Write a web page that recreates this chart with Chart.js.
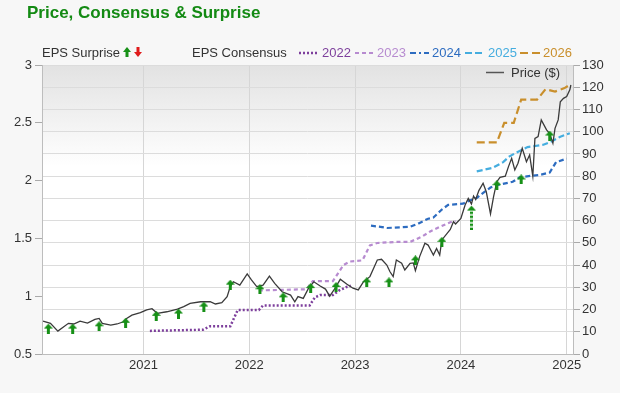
<!DOCTYPE html>
<html>
<head>
<meta charset="utf-8">
<script src="https://cdn.jsdelivr.net/npm/chart.js@4/dist/chart.umd.min.js"></script>
<style>
  html, body { margin: 0; padding: 0; background: #f7f7f7; }
  #wrap { position: relative; width: 620px; height: 393px; font-family: "Liberation Sans", Arial, sans-serif; }
  #chart { position: absolute; left: 0; top: 0; }
  .title { position: absolute; left: 27px; top: 4px; font-size: 17px; line-height: 17px; font-weight: bold; color: #138a13; white-space: nowrap; }
  .leg { position: absolute; font-size: 13px; line-height: 13px; color: #333; white-space: nowrap; }
</style>
</head>
<body>
<div id="wrap">
  <canvas id="chart" width="620" height="393"></canvas>
  <div class="title">Price, Consensus &amp; Surprise</div>

  <div class="leg" style="left:42px; top:46px;">EPS Surprise</div>
  <svg style="position:absolute; left:123px; top:47px;" width="8" height="11">
    <polygon points="4,0 8,5 0,5" fill="#179017"/><rect x="2.5" y="5" width="3" height="5" fill="#179017"/>
  </svg>
  <svg style="position:absolute; left:134px; top:47px;" width="8" height="11">
    <rect x="2.5" y="0" width="3" height="5" fill="#e01b1b"/><polygon points="0,5 8,5 4,10" fill="#e01b1b"/>
  </svg>

  <div class="leg" style="left:192px; top:46px;">EPS Consensus</div>

  <svg style="position:absolute; left:299px; top:51px;" width="20" height="4">
    <line x1="0" y1="2" x2="20" y2="2" stroke="#7d3f9c" stroke-width="2.5" stroke-dasharray="2,2"/>
  </svg>
  <div class="leg" style="left:322px; top:46px; color:#7d3f9c;">2022</div>

  <svg style="position:absolute; left:355px; top:51px;" width="18" height="4">
    <line x1="0" y1="2" x2="18" y2="2" stroke="#b78bd0" stroke-width="2" stroke-dasharray="4,3"/>
  </svg>
  <div class="leg" style="left:377px; top:46px; color:#b78bd0;">2023</div>

  <svg style="position:absolute; left:410px; top:51px;" width="19" height="4">
    <line x1="0" y1="2" x2="19" y2="2" stroke="#2d6cc0" stroke-width="2.2" stroke-dasharray="6,3,2,3"/>
  </svg>
  <div class="leg" style="left:432px; top:46px; color:#2d6cc0;">2024</div>

  <svg style="position:absolute; left:465px; top:51px;" width="19" height="4">
    <line x1="0" y1="2" x2="19" y2="2" stroke="#45addf" stroke-width="2" stroke-dasharray="7,3"/>
  </svg>
  <div class="leg" style="left:488px; top:46px; color:#45addf;">2025</div>

  <svg style="position:absolute; left:520px; top:51px;" width="20" height="4">
    <line x1="0" y1="2" x2="20" y2="2" stroke="#c98f2c" stroke-width="2" stroke-dasharray="8,4"/>
  </svg>
  <div class="leg" style="left:543px; top:46px; color:#c98f2c;">2026</div>

  <svg style="position:absolute; left:486px; top:71px;" width="18" height="3">
    <line x1="0" y1="1.5" x2="18" y2="1.5" stroke="#555" stroke-width="1.5"/>
  </svg>
  <div class="leg" style="left:511px; top:66px;">Price ($)</div>
</div>

<script>
// price, right axis ($), x as decimal year
const priceYears = [2020.05, 2020.12, 2020.19, 2020.29, 2020.34, 2020.40, 2020.47, 2020.54, 2020.58, 2020.61,
    2020.69, 2020.75, 2020.81, 2020.84, 2020.89, 2020.97, 2021.03, 2021.08, 2021.13, 2021.22,
    2021.32, 2021.38, 2021.44, 2021.54, 2021.63, 2021.68, 2021.74, 2021.79, 2021.82, 2021.85,
    2021.91, 2021.98, 2022.02, 2022.07, 2022.13, 2022.19, 2022.24, 2022.31, 2022.39, 2022.43,
    2022.46, 2022.51, 2022.56, 2022.61, 2022.67, 2022.72, 2022.76, 2022.80, 2022.86, 2022.92,
    2022.98, 2023.03, 2023.08, 2023.14, 2023.21, 2023.25, 2023.30, 2023.33, 2023.36, 2023.39,
    2023.44, 2023.47, 2023.52, 2023.55, 2023.57, 2023.61, 2023.66, 2023.69, 2023.74, 2023.77,
    2023.80, 2023.82, 2023.87, 2023.90, 2023.93, 2023.95, 2024.00, 2024.04, 2024.07, 2024.10,
    2024.12, 2024.14, 2024.17, 2024.21, 2024.24, 2024.28, 2024.31, 2024.34, 2024.37, 2024.42,
    2024.45, 2024.48, 2024.51, 2024.54, 2024.58, 2024.62, 2024.65, 2024.68, 2024.70, 2024.73,
    2024.76, 2024.81, 2024.84, 2024.87, 2024.89, 2024.92, 2024.94, 2024.97, 2025.00, 2025.03, 2025.04];
const priceValues = [14.8, 13.8, 10.3, 13.8, 13.5, 14.8, 13.9, 15.6, 16.0, 13.8,
    13.0, 13.5, 14.5, 16.0, 17.5, 18.6, 19.8, 20.4, 18.3, 19.0,
    20.2, 21.3, 22.8, 23.5, 23.5, 22.5, 23.1, 25.8, 30.3, 32.5,
    31.0, 36.0, 33.3, 30.3, 31.0, 35.0, 31.8, 28.0, 26.5, 23.5,
    25.8, 25.0, 29.6, 32.5, 30.6, 29.2, 26.0, 28.8, 33.6, 31.5,
    29.6, 28.8, 32.5, 34.8, 42.3, 42.6, 40.0, 37.0, 34.8, 42.3,
    40.8, 37.8, 40.8, 41.0, 37.5, 43.8, 49.8, 49.0, 44.5, 47.5,
    44.5, 51.3, 54.3, 56.0, 59.5, 58.5, 61.0, 67.0, 70.0, 67.5,
    71.0, 69.5, 73.5, 76.8, 73.0, 63.0, 71.0, 77.5, 79.5, 80.0,
    84.3, 88.0, 82.8, 85.8, 92.5, 86.5, 89.5, 80.0, 97.0, 97.8,
    105.3, 100.8, 99.2, 94.8, 101.5, 105.3, 113.5, 115.0, 115.8, 118.8, 121.0];

// EPS consensus per fiscal year, left axis
const eps2022Years = [2021.06, 2021.56, 2021.63, 2021.82, 2021.89, 2022.09, 2022.13, 2022.57, 2022.62, 2022.67, 2022.79, 2022.85, 2022.92, 2022.96];
const eps2022Values = [0.70, 0.71, 0.74, 0.74, 0.88, 0.88, 0.92, 0.92, 0.99, 1.01, 1.01, 1.05, 1.08, 1.09];

const eps2023Years = [2022.09, 2022.54, 2022.60, 2022.79, 2022.89, 2022.95, 2023.07, 2023.14, 2023.21, 2023.39, 2023.52, 2023.57, 2023.64, 2023.71, 2023.80, 2023.90, 2023.95];
const eps2023Values = [1.05, 1.06, 1.13, 1.13, 1.27, 1.30, 1.31, 1.44, 1.46, 1.47, 1.47, 1.49, 1.52, 1.56, 1.60, 1.64, 1.65];

const eps2024Years = [2023.15, 2023.24, 2023.30, 2023.52, 2023.60, 2023.69, 2023.74, 2023.82, 2023.88, 2024.02, 2024.09, 2024.15, 2024.22, 2024.28, 2024.34, 2024.49, 2024.56, 2024.75, 2024.84, 2024.90, 2025.00];
const eps2024Values = [1.61, 1.60, 1.59, 1.60, 1.63, 1.67, 1.68, 1.75, 1.79, 1.80, 1.83, 1.85, 1.90, 1.94, 1.96, 1.99, 2.03, 2.05, 2.07, 2.16, 2.19];

const eps2025Years = [2024.15, 2024.30, 2024.40, 2024.46, 2024.52, 2024.63, 2024.78, 2024.86, 2024.94, 2025.03];
const eps2025Values = [2.08, 2.11, 2.16, 2.21, 2.24, 2.29, 2.31, 2.34, 2.38, 2.41];

const eps2026Years = [2024.15, 2024.34, 2024.41, 2024.50, 2024.57, 2024.72, 2024.80, 2024.89, 2024.98, 2025.03];
const eps2026Values = [2.33, 2.33, 2.50, 2.50, 2.70, 2.70, 2.79, 2.77, 2.80, 2.83];

// reported EPS (all positive surprises)
const surpriseYears = [2020.10, 2020.33, 2020.58, 2020.83, 2021.12, 2021.33, 2021.57, 2021.82, 2022.10, 2022.32,
    2022.58, 2022.82, 2023.11, 2023.32, 2023.57, 2023.82, 2024.10, 2024.34, 2024.57, 2024.84];
const surpriseValues = [0.72, 0.72, 0.74, 0.77, 0.83, 0.85, 0.91, 1.10, 1.06, 0.99,
    1.07, 1.08, 1.12, 1.12, 1.31, 1.47, 1.68, 1.96, 2.01, 2.39];

const yearTicks = [2021, 2022, 2023, 2024, 2025];

const toXY = (xs, ys) => xs.map((x, i) => ({ x: x, y: ys[i] }));

const makeArrow = (color, h, dashed) => {
    const c = document.createElement('canvas');
    c.width = 9;
    c.height = h;
    const g = c.getContext('2d');
    g.fillStyle = color;
    g.beginPath();
    g.moveTo(4.5, 0);
    g.lineTo(9, 5);
    g.lineTo(0, 5);
    g.closePath();
    g.fill();
    if (dashed) {
        for (let y = 6; y < h; y += 4) g.fillRect(3, y, 3, 2.5);
    } else {
        g.fillRect(3, 5, 3, h - 5);
    }
    return c;
};
const arrowUp = makeArrow('#179017', 10, false);
const arrowLong = makeArrow('#179017', 24, true);

const plotBg = {
    id: 'plotBg',
    beforeDraw(chart) {
        const { ctx, chartArea: a } = chart;
        const g = ctx.createLinearGradient(0, a.top, 0, a.bottom);
        g.addColorStop(0, '#e2e2e2');
        g.addColorStop(0.35, '#ffffff');
        g.addColorStop(1, '#ffffff');
        ctx.save();
        ctx.fillStyle = g;
        ctx.fillRect(a.left, a.top, a.width, a.height);
        ctx.restore();
    }
};

const epsLine = (label, xs, ys, color, dash, width) => ({
    label: label,
    data: toXY(xs, ys),
    yAxisID: 'y',
    borderColor: color,
    borderWidth: width,
    borderDash: dash,
    borderCapStyle: 'butt',
    pointRadius: 0,
    order: 2
});

Chart.defaults.font.family = '"Liberation Sans", Arial, sans-serif';
Chart.defaults.font.size = 13;
Chart.defaults.color = '#333';

const ctx = document.getElementById('chart').getContext('2d');
new Chart(ctx, {
    type: 'line',
    data: {
        datasets: [
            {
                label: 'EPS Surprise',
                data: toXY(surpriseYears, surpriseValues),
                yAxisID: 'y',
                showLine: false,
                pointRadius: 4,
                pointStyle: surpriseYears.map((_, i) => (i === 16 ? arrowLong : arrowUp)),
                order: 0
            },
            {
                label: 'Price ($)',
                data: toXY(priceYears, priceValues),
                yAxisID: 'y1',
                borderColor: '#3a3a3a',
                borderWidth: 1.3,
                pointRadius: 0,
                order: 1
            },
            epsLine('2022', eps2022Years, eps2022Values, '#7d3f9c', [2, 2], 2.5),
            epsLine('2023', eps2023Years, eps2023Values, '#b78bd0', [4, 3], 2.2),
            epsLine('2024', eps2024Years, eps2024Values, '#2d6cc0', [5, 3], 2.2),
            epsLine('2025', eps2025Years, eps2025Values, '#45addf', [6, 3], 2.2),
            epsLine('2026', eps2026Years, eps2026Values, '#c98f2c', [8, 4], 2.2)
        ]
    },
    options: {
        responsive: false,
        animation: false,
        layout: { padding: { top: 65, left: 0, right: 0, bottom: 0 } },
        plugins: {
            legend: { display: false },
            tooltip: { enabled: false }
        },
        scales: {
            x: {
                type: 'linear',
                min: 2020.04,
                max: 2025.06,
                afterBuildTicks: (scale) => {
                    scale.ticks = yearTicks.map(v => ({ value: v }));
                },
                afterFit: (scale) => { scale.height = 39; },
                ticks: {
                    callback: (v) => String(v),
                    maxRotation: 0,
                    padding: 4,
                    color: '#333'
                },
                grid: { color: '#d6d6d6', drawTicks: false },
                border: { color: '#bdbdbd' }
            },
            y: {
                position: 'left',
                min: 0.5,
                max: 3,
                afterFit: (scale) => { scale.width = 42; },
                ticks: { stepSize: 0.5, padding: 3, color: '#333', callback: (v) => String(v) },
                grid: { drawOnChartArea: false, tickLength: 7, color: '#aaa' },
                border: { color: '#bdbdbd' }
            },
            y1: {
                position: 'right',
                min: 0,
                max: 130,
                afterFit: (scale) => { scale.width = 47; },
                ticks: { stepSize: 10, padding: 2, color: '#333' },
                grid: { color: '#dcdcdc', tickColor: '#aaa', tickLength: 7 },
                border: { color: '#bdbdbd' }
            }
        }
    },
    plugins: [plotBg]
});
</script>
</body>
</html>
